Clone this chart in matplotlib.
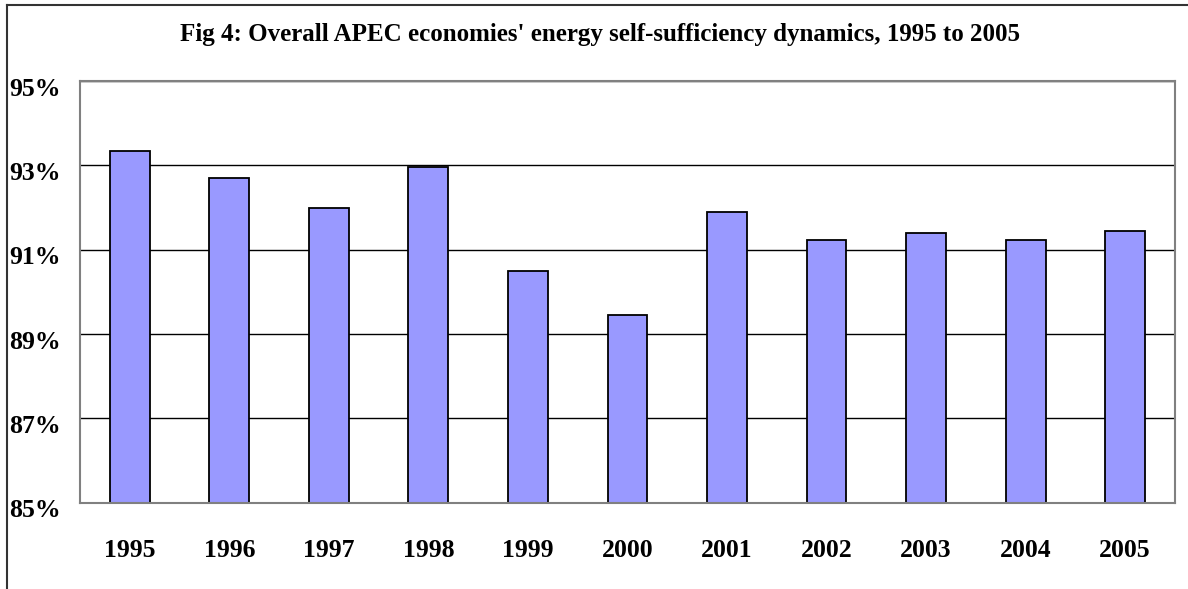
"""
Fig 4: Overall APEC economies' energy self-sufficiency, 1995 to 2005.
"""

import matplotlib
matplotlib.use("Agg")
import matplotlib.pyplot as plt
import matplotlib.transforms as mtransforms
from matplotlib.lines import Line2D
from matplotlib.ticker import FuncFormatter

years = ["1995", "1996", "1997", "1998", "1999", "2000",
         "2001", "2002", "2003", "2004", "2005"]
self_sufficiency = [93.33, 92.70, 91.98, 92.97, 90.50, 89.46,
                    91.89, 91.22, 91.39, 91.22, 91.44]
y_ticks = [85, 87, 89, 91, 93, 95]

TITLE = "Fig 4: Overall APEC economies' energy self-sufficiency dynamics, 1995 to 2005"

plt.rcParams["font.family"] = ["Liberation Serif", "DejaVu Serif"]
plt.rcParams["font.weight"] = "bold"

fig = plt.figure(figsize=(11.88, 5.89), dpi=100)
ax = fig.add_axes([0.0673, 0.1465, 0.9217, 0.716])

x = range(len(years))
ax.bar(x, self_sufficiency, width=0.40, bottom=0,
       color="#9999FF", edgecolor="black", linewidth=1.3, zorder=3)

ax.set_ylim(85, 95)
ax.set_xlim(-0.5, len(years) - 0.5)
ax.set_yticks(y_ticks)
ax.yaxis.set_major_formatter(FuncFormatter(lambda v, _: f"{v:.0f}%"))
ax.set_xticks(list(x))
ax.set_xticklabels(years)

ax.grid(axis="y", color="black", linewidth=1.0, zorder=1)
ax.tick_params(axis="both", length=0, labelsize=18.5)
ax.tick_params(axis="y", pad=14)
ax.tick_params(axis="x", pad=26)

# y labels sit a little below their gridlines in the original
shift_down = mtransforms.ScaledTranslation(0, -4 / 72, fig.dpi_scale_trans)
for label in ax.get_yticklabels():
    label.set_fontweight("bold")
    label.set_transform(label.get_transform() + shift_down)
for label in ax.get_xticklabels():
    label.set_fontweight("bold")

for spine in ax.spines.values():
    spine.set_color("#808080")
    spine.set_linewidth(1.5)
ax.spines["bottom"].set_zorder(4)

fig.text(0.505, 0.942, TITLE, ha="center", va="center",
         fontsize=18, fontweight="bold")

# chart frame, only top and left edges are visible in the original crop
fig.add_artist(Line2D([0.006, 1.0], [0.991, 0.991], color="#333333", linewidth=1.5))
fig.add_artist(Line2D([0.006, 0.006], [0.0, 0.991], color="#333333", linewidth=1.5))

fig.savefig("out.png", dpi=100)
